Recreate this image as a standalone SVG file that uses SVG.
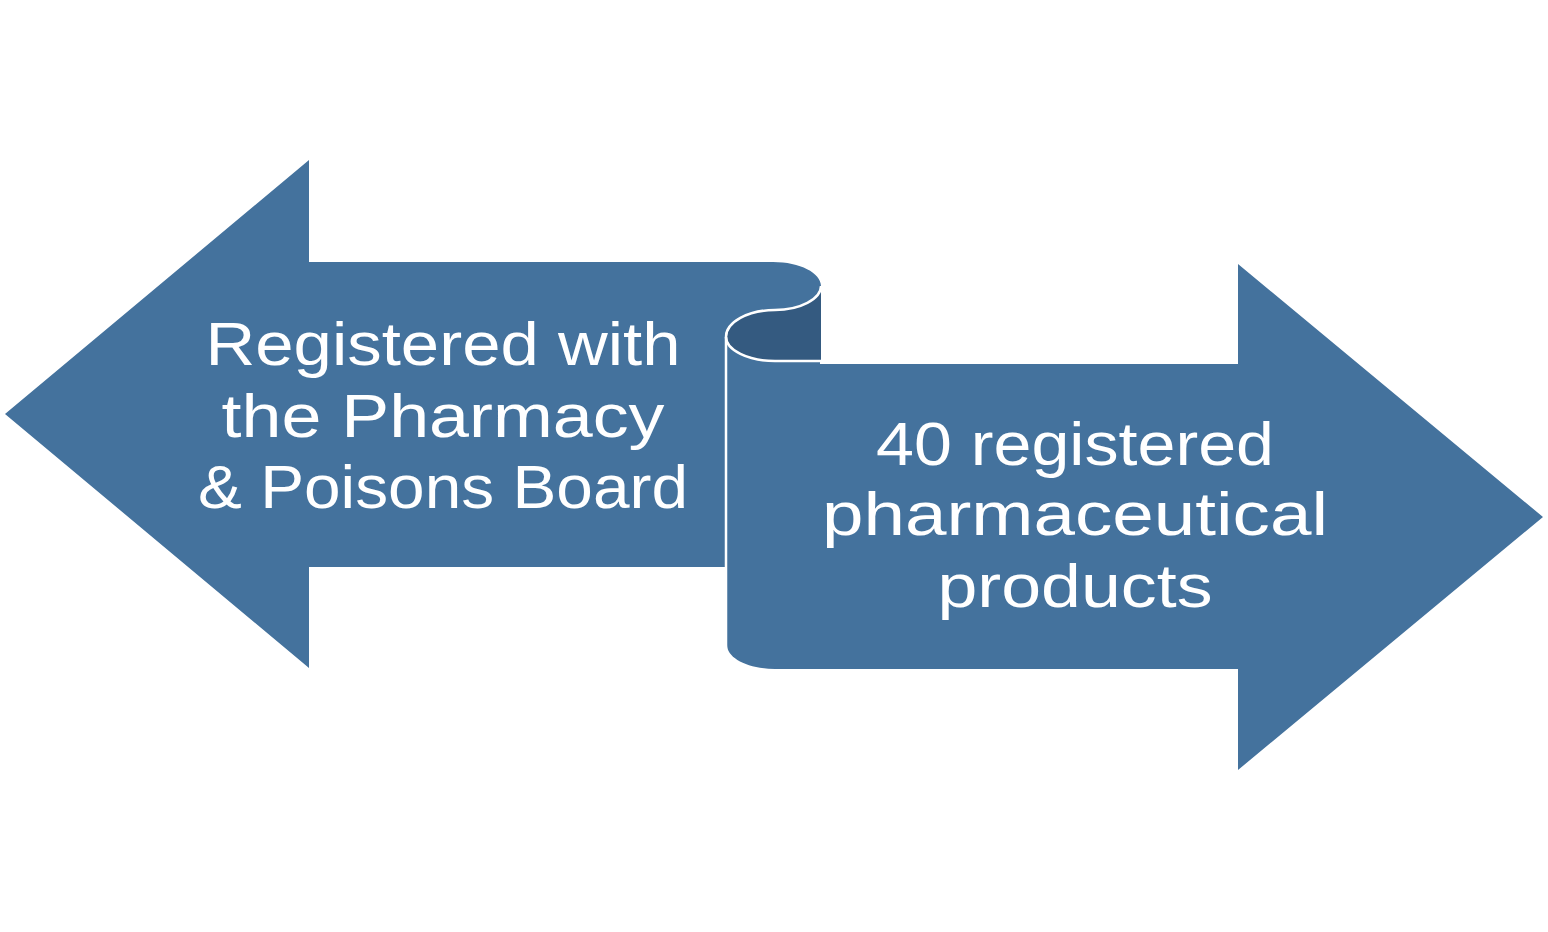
<svg xmlns="http://www.w3.org/2000/svg" width="1548" height="932" viewBox="0 0 1548 932">
<style>
.main{fill:#44729d}
.dark{fill:#345a80}
.edge{fill:none;stroke:#ffffff;stroke-width:2.5}
.lbl{font-family:"Liberation Sans",Arial,sans-serif;font-size:62px;fill:#ffffff;text-anchor:middle}
</style>
<rect width="1548" height="932" fill="#ffffff"/>
<g id="left-arrow">
<path class="main" d="M5,414 L309,160 L309,262 L773,262 C800,262 821,273 821,286 C821,299 800,310 775,310 C748,310 725,322 725,337 L725,567 L309,567 L309,668 Z"/>
<text class="lbl" x="443" y="365" textLength="475" lengthAdjust="spacingAndGlyphs">Registered with</text>
<text class="lbl" x="443" y="437" textLength="443" lengthAdjust="spacingAndGlyphs">the Pharmacy</text>
<text class="lbl" x="443" y="508" textLength="490" lengthAdjust="spacingAndGlyphs">&amp; Poisons Board</text>
</g>
<g id="right-arrow">
<path class="main" d="M727,337 L727,645 C727,658 748,669 775,669 L1238,669 L1238,770 L1543,517 L1238,264 L1238,364 L820,364 L820,361 L775,361 C748,361 727,350 727,337 Z"/>
<path class="dark" d="M821,286 C821,299 800,310 775,310 C748,310 727,322 727,337 C727,350 748,361 775,361 L821,361 Z"/>
<path class="edge" d="M821,286 C821,299 800,310 775,310 C748,310 726,322 726,337 C726,350 748,361 775,361 L821,361"/>
<path class="edge" d="M726,337 L726,669"/>
<text class="lbl" x="1075" y="465" textLength="398" lengthAdjust="spacingAndGlyphs">40 registered</text>
<text class="lbl" x="1075" y="535" textLength="506" lengthAdjust="spacingAndGlyphs">pharmaceutical</text>
<text class="lbl" x="1075" y="607" textLength="275" lengthAdjust="spacingAndGlyphs">products</text>
</g>
<g id="connectors"></g>
</svg>
